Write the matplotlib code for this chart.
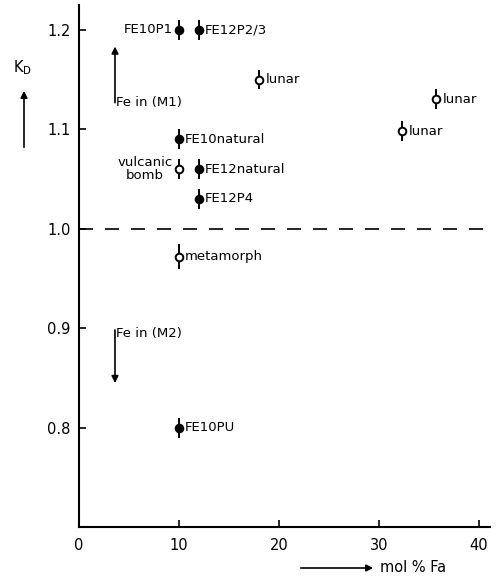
import matplotlib
matplotlib.use("Agg")
import matplotlib.pyplot as plt

# Data
labels = ["FE10P1", "FE12P2/3", "lunar", "lunar", "lunar", "FE10natural",
          "vulcanic\nbomb", "FE12natural", "FE12P4", "metamorph", "FE10PU"]
fa = [10, 12, 18, 35.7, 32.3, 10, 10, 12, 12, 10, 10]
kd = [1.20, 1.20, 1.15, 1.13, 1.098, 1.09, 1.06, 1.06, 1.03, 0.972, 0.80]
kd_err = [0.01, 0.01, 0.01, 0.01, 0.01, 0.01, 0.01, 0.01, 0.01, 0.013, 0.01]
filled = [True, True, False, False, False, True, False, True, True, False, True]
label_side = ["left", "right", "right", "right", "right", "right", "left",
              "right", "right", "right", "right"]

xticks = [0, 10, 20, 30, 40]
yticks = [0.8, 0.9, 1.0, 1.1, 1.2]

plt.rcParams['font.family'] = ['DejaVu Sans']
fig = plt.figure(figsize=(4.98, 5.79), dpi=100)
ax = fig.add_axes([0.1586, 0.0898, 0.984 - 0.1586, 0.9914 - 0.0898])

for x, y, e, f, lab, side in zip(fa, kd, kd_err, filled, labels, label_side):
    ax.errorbar([x], [y], yerr=[e], fmt='o', color='black', ms=5.5,
                mfc='black' if f else 'white', mec='black', mew=1.4,
                elinewidth=1.4, capsize=0, zorder=3)
    if side == "right":
        ax.annotate(lab, (x, y), xytext=(4.5, 0), textcoords='offset points',
                    ha='left', va='center', fontsize=9.5)
    else:
        ax.annotate(lab, (x, y), xytext=(-4.5, 0), textcoords='offset points',
                    ha='right', va='center', fontsize=9.5, multialignment='center',
                    linespacing=1.0)

ax.axhline(1.0, color='black', lw=1.2, dashes=(8.4, 7.2), zorder=1)

# Fe in arrows
ax.annotate("", xy=(3.6, 1.186), xytext=(3.6, 1.124),
            arrowprops=dict(arrowstyle='-|>', color='black', lw=1.2, mutation_scale=10))
ax.text(3.7, 1.127, "Fe in (M1)", fontsize=9.5, ha='left', va='center')
ax.annotate("", xy=(3.6, 0.842), xytext=(3.6, 0.901),
            arrowprops=dict(arrowstyle='-|>', color='black', lw=1.2, mutation_scale=10))
ax.text(3.7, 0.895, "Fe in (M2)", fontsize=9.5, ha='left', va='center')

ax.set_xlim(0, 41.1)
ax.set_ylim(0.7, 1.225)
ax.set_xticks(xticks)
ax.set_yticks(yticks)
ax.set_xticklabels([str(t) for t in xticks])
ax.set_yticklabels([f"{t:.1f}" for t in yticks])
ax.tick_params(direction='in', length=5, width=1.2, labelsize=10.5)
ax.tick_params(axis='y', pad=6)
ax.tick_params(axis='x', pad=8)
for s in ['top', 'right']:
    ax.spines[s].set_visible(False)
for s in ['left', 'bottom']:
    ax.spines[s].set_linewidth(1.5)

# Axis labels with arrows (figure coords)
fig.text(22 / 498, 1 - 68 / 579, r"K$_\mathrm{D}$", fontsize=10.5, ha='center', va='center')
fig.add_artist(matplotlib.patches.FancyArrowPatch((24 / 498, 1 - 150 / 579), (24 / 498, 1 - 88 / 579),
               transform=fig.transFigure, arrowstyle='-|>', mutation_scale=10, color='black', lw=1.2))
fig.text(380 / 498, 1 - 568 / 579, "mol % Fa", fontsize=10.5, ha='left', va='center')
fig.add_artist(matplotlib.patches.FancyArrowPatch((298 / 498, 1 - 568 / 579), (376 / 498, 1 - 568 / 579),
               transform=fig.transFigure, arrowstyle='-|>', mutation_scale=10, color='black', lw=1.2))

fig.savefig("out.png", dpi=100)
